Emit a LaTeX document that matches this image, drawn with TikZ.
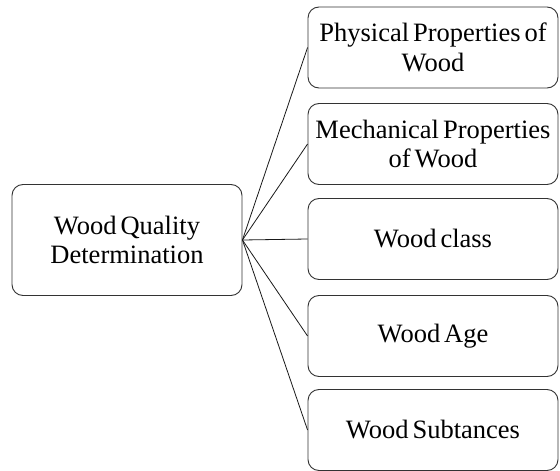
\documentclass[tikz,border=0pt]{standalone}
\usepackage{fontspec}
\setmainfont[WordSpace=0.6]{Liberation Serif}
\begin{document}
\begin{tikzpicture}[x=1pt,y=-1pt,
  box/.style={draw=black!80, line width=0.9pt, rounded corners=11pt, fill=white,
    inner sep=0pt, align=center, font=\fontsize{26.5}{29.5}\selectfont},
  rbox/.style={box, minimum width=250pt, minimum height=81pt},
  link/.style={draw=black!90, line width=0.8pt}]
\useasboundingbox (0,0) rectangle (560,471);
\node[box, minimum width=230pt, minimum height=111pt] (main) at (127,240) {Wood Quality\\Determination};
\node[rbox] (b1) at (433,47.5) {Physical Properties of\\Wood};
\node[rbox] (b2) at (433,144) {Mechanical Properties\\of Wood};
\node[rbox] (b3) at (433,239) {Wood class};
\node[rbox] (b4) at (433,336) {Wood Age};
\node[rbox] (b5) at (433,430) {Wood Subtances};
\foreach \b in {b1,b2,b3,b4,b5} \draw[link] (main.east) -- (\b.west);
\end{tikzpicture}
\end{document}
